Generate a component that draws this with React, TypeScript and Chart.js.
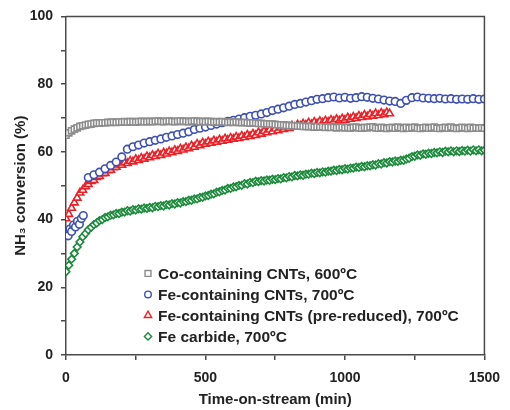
import React, { useEffect, useRef } from 'react';
import { Chart, registerables } from 'chart.js';
import { drawPoint } from 'chart.js/helpers';

Chart.register(...registerables);

// Time-on-stream (min), 10-min sampling
const TIMES_10 = [
  0, 10, 20, 30, 40, 50, 60, 70, 80, 90,
  100, 110, 120, 130, 140, 150, 160, 170, 180, 190,
  200, 210, 220, 230, 240, 250, 260, 270, 280, 290,
  300, 310, 320, 330, 340, 350, 360, 370, 380, 390,
  400, 410, 420, 430, 440, 450, 460, 470, 480, 490,
  500, 510, 520, 530, 540, 550, 560, 570, 580, 590,
  600, 610, 620, 630, 640, 650, 660, 670, 680, 690,
  700, 710, 720, 730, 740, 750, 760, 770, 780, 790,
  800, 810, 820, 830, 840, 850, 860, 870, 880, 890,
  900, 910, 920, 930, 940, 950, 960, 970, 980, 990,
  1000, 1010, 1020, 1030, 1040, 1050, 1060, 1070, 1080, 1090,
  1100, 1110, 1120, 1130, 1140, 1150, 1160, 1170, 1180, 1190,
  1200, 1210, 1220, 1230, 1240, 1250, 1260, 1270, 1280, 1290,
  1300, 1310, 1320, 1330, 1340, 1350, 1360, 1370, 1380, 1390,
  1400, 1410, 1420, 1430, 1440, 1450, 1460, 1470, 1480, 1490,
  1500,
];

// Fe-containing CNTs, 700ºC sampling times (min)
const FE_TIMES = [
  8, 14, 20, 27, 34, 41, 48, 55, 62,
  80, 100, 120, 140, 160, 180, 200, 220, 240, 260,
  280, 300, 320, 340, 360, 380, 400, 420, 440, 460,
  480, 500, 520, 540, 560, 580, 600, 620, 640, 660,
  680, 700, 720, 740, 760, 780, 800, 820, 840, 860,
  880, 900, 920, 940, 960, 980, 1000, 1020, 1040, 1060,
  1080, 1100, 1120, 1140, 1160, 1180, 1200, 1220, 1240, 1260,
  1280, 1300, 1320, 1340, 1360, 1380, 1400, 1420, 1440, 1460,
  1480, 1500,
];

const LABELS = [
  'Co-containing CNTs, 600ºC',
  'Fe-containing CNTs, 700ºC',
  'Fe-containing CNTs (pre-reduced), 700ºC',
  'Fe carbide, 700ºC',
];

// NH3 conversion (%)
const CO_600 = [
  64.9, 65.6, 66.2, 66.7, 67.1, 67.5, 67.7, 67.9, 68.1, 68.2,
  68.4, 68.5, 68.5, 68.6, 68.6, 68.7, 68.7, 68.8, 68.7, 68.8,
  68.8, 68.9, 68.8, 68.9, 68.9, 68.8, 68.9, 69.0, 68.9, 68.9,
  69.0, 68.9, 69.0, 69.1, 69.0, 68.9, 69.0, 69.1, 69.0, 68.9,
  69.0, 69.1, 69.0, 69.0, 68.9, 69.0, 69.1, 69.0, 68.9, 69.0,
  68.9, 69.0, 68.9, 68.8, 68.9, 68.8, 68.9, 68.8, 68.7, 68.8,
  68.7, 68.8, 68.7, 68.6, 68.7, 68.6, 68.5, 68.6, 68.5, 68.4,
  68.4, 68.3, 68.3, 68.2, 68.2, 68.1, 68.0, 68.0, 67.9, 67.8,
  67.8, 67.7, 67.7, 67.6, 67.6, 67.5, 67.5, 67.4, 67.5, 67.3,
  67.4, 67.3, 67.4, 67.2, 67.3, 67.2, 67.3, 67.1, 67.2, 67.3,
  67.1, 67.2, 67.0, 67.2, 67.3, 67.1, 67.0, 67.2, 67.1, 67.3,
  67.4, 67.1, 67.0, 67.2, 67.1, 66.9, 67.1, 67.2, 67.0, 67.3,
  67.1, 66.9, 67.2, 67.0, 67.1, 67.3, 67.0, 66.9, 67.1, 67.2,
  67.0, 67.1, 67.3, 67.0, 66.9, 67.1, 67.2, 67.0, 67.3, 67.1,
  66.9, 67.0, 67.2, 67.1, 66.9, 67.2, 67.0, 67.1, 67.0, 67.1,
  67.0,
];

const FE_700 = [
  35.2, 37.2, 36.5, 38.4, 37.8, 39.5, 38.6, 40.3, 41.2,
  52.4, 53.2, 54.0, 55.0, 56.0, 57.0, 58.5, 60.8, 61.5, 62.0,
  62.6, 63.0, 63.4, 63.8, 64.3, 64.7, 65.1, 65.5, 65.9, 66.6,
  67.0, 67.3, 67.8, 68.2, 68.6, 69.0, 69.3, 69.7, 70.1, 70.5,
  70.8, 71.2, 71.6, 72.2, 72.6, 73.0, 73.5, 74.0, 74.3, 74.7,
  75.1, 75.5, 75.7, 76.0, 76.2, 75.9, 76.1, 75.8, 76.0, 76.3,
  76.1, 75.8, 75.6, 75.3, 75.0, 74.9, 74.3, 75.2, 76.0, 76.2,
  75.9, 75.8, 75.7, 75.8, 75.6, 75.7, 75.5, 75.6, 75.5, 75.7,
  75.5, 75.6,
];

const FE_PRERED_700 = [
  40.3, 41.6, 43.4, 45.0, 46.4, 47.9, 48.7, 49.8, 50.4, 51.3,
  51.6, 52.5, 52.8, 53.6, 53.7, 54.5, 54.6, 55.4, 55.5, 56.2,
  56.1, 56.8, 56.6, 57.3, 57.1, 57.8, 57.5, 58.2, 57.9, 58.6,
  58.3, 59.0, 58.7, 59.4, 59.0, 59.7, 59.4, 60.1, 59.8, 60.5,
  60.2, 60.9, 60.6, 61.3, 61.0, 61.8, 61.4, 62.3, 61.9, 62.7,
  62.3, 63.0, 62.6, 63.3, 62.9, 63.6, 63.2, 63.9, 63.5, 64.1,
  63.8, 64.4, 64.0, 64.7, 64.3, 65.0, 64.6, 65.3, 64.9, 65.7,
  65.3, 66.1, 65.7, 66.5, 66.0, 66.8, 66.3, 67.1, 66.7, 67.4,
  67.0, 67.7, 67.3, 68.0, 67.6, 68.3, 67.9, 68.6, 68.1, 68.8,
  68.3, 69.0, 68.6, 69.2, 68.8, 69.4, 69.0, 69.6, 69.2, 69.8,
  69.4, 70.1, 69.7, 70.3, 69.9, 70.6, 70.2, 70.9, 70.4, 71.1,
  70.6, 71.3, 70.8, 71.5, 71.0, 71.6, 71.3,
];

const FE_CARBIDE_700 = [
  24.6, 26.5, 28.3, 30.0, 31.9, 33.4, 34.9, 35.9, 37.0, 37.7,
  38.5, 39.0, 39.7, 40.0, 40.6, 40.8, 41.3, 41.4, 41.8, 41.8,
  42.2, 42.2, 42.6, 42.5, 42.9, 42.8, 43.2, 43.1, 43.4, 43.3,
  43.6, 43.5, 43.9, 43.8, 44.1, 44.0, 44.4, 44.3, 44.7, 44.6,
  45.0, 44.9, 45.3, 45.3, 45.7, 45.7, 46.1, 46.1, 46.5, 46.6,
  47.0, 47.1, 47.5, 47.6, 48.1, 48.2, 48.6, 48.7, 49.2, 49.2,
  49.6, 49.7, 50.1, 50.1, 50.6, 50.5, 51.0, 50.9, 51.3, 51.2,
  51.5, 51.4, 51.7, 51.6, 51.9, 51.8, 52.1, 52.0, 52.4, 52.3,
  52.7, 52.6, 53.0, 52.9, 53.2, 53.1, 53.4, 53.4, 53.7, 53.6,
  53.9, 53.8, 54.1, 54.0, 54.3, 54.3, 54.6, 54.5, 54.8, 54.7,
  55.0, 54.9, 55.2, 55.2, 55.5, 55.4, 55.7, 55.6, 55.9, 55.9,
  56.2, 56.1, 56.5, 56.4, 56.8, 56.7, 57.1, 57.0, 57.3, 57.2,
  57.5, 57.5, 57.9, 58.1, 58.6, 58.7, 59.1, 59.0, 59.4, 59.3,
  59.6, 59.5, 59.8, 59.7, 60.0, 59.8, 60.2, 60.0, 60.3, 60.0,
  60.3, 60.1, 60.4, 60.2, 60.5, 60.2, 60.6, 60.3, 60.6, 60.3,
  60.5,
];

const X_TICK_LABELS = [0, 500, 1000, 1500];
const Y_TICK_LABELS = [0, 20, 40, 60, 80, 100];

const FONT = '"Liberation Sans", Arial, Helvetica, sans-serif';
const TEXT_COLOR = '#222222';
const AXIS_COLOR = '#4a4a4a';

const zip = (xs: number[], ys: number[]) => ys.map((y, i) => ({ x: xs[i], y }));

const framePlugin = {
  id: 'frame',
  afterDatasetsDraw(chart: any) {
    const { ctx, chartArea } = chart;
    ctx.save();
    ctx.strokeStyle = AXIS_COLOR;
    ctx.lineWidth = 1.5;
    ctx.beginPath();
    ctx.moveTo(chartArea.left, chartArea.top);
    ctx.lineTo(chartArea.right, chartArea.top);
    ctx.lineTo(chartArea.right, chartArea.bottom);
    ctx.stroke();
    ctx.restore();
  },
};

const insideLegendPlugin = {
  id: 'insideLegend',
  afterDatasetsDraw(chart: any) {
    const { ctx, chartArea } = chart;
    const markerX = chartArea.left + 82;
    const textX = chartArea.left + 92;
    const y0 = chartArea.top + 257;
    const dy = 21;
    ctx.save();
    ctx.font = `bold 15.5px ${FONT}`;
    ctx.textBaseline = 'middle';
    ctx.textAlign = 'left';
    chart.data.datasets.forEach((ds: any, i: number) => {
      const y = y0 + i * dy;
      ctx.strokeStyle = ds.borderColor;
      ctx.fillStyle = '#ffffff';
      ctx.lineWidth = 1.4;
      drawPoint(ctx, { pointStyle: ds.pointStyle, radius: ds.legendRadius, rotation: 0, borderWidth: 1.4 } as any, markerX, y);
      ctx.fillStyle = TEXT_COLOR;
      ctx.fillText(ds.label, textX, y + 1);
    });
    ctx.restore();
  },
};

export default function App() {
  const ref = useRef<HTMLCanvasElement>(null);

  useEffect(() => {
    if (!ref.current) return;
    const makeSet = (label: string, data: any[], color: string, style: string, radius: number, legendRadius: number) => ({
      label,
      data,
      borderColor: color,
      backgroundColor: '#ffffff',
      pointStyle: style,
      pointRadius: radius,
      pointBorderWidth: 1.6,
      pointBackgroundColor: '#ffffff',
      pointBorderColor: color,
      showLine: false,
      legendRadius,
    });

    const chart = new Chart(ref.current, {
      type: 'scatter',
      data: {
        datasets: [
          makeSet(LABELS[0], zip(TIMES_10, CO_600), '#8c8c8c', 'rect', 4.3, 4.2),
          makeSet(LABELS[1], zip(FE_TIMES, FE_700), '#3d50b2', 'circle', 3.8, 3.3),
          makeSet(LABELS[2], zip(TIMES_10, FE_PRERED_700), '#ea2127', 'triangle', 4.4, 4.2),
          makeSet(LABELS[3], zip(TIMES_10, FE_CARBIDE_700), '#1b8a3b', 'rectRot', 3.8, 3.6),
        ] as any,
      },
      options: {
        animation: false,
        responsive: true,
        maintainAspectRatio: false,
        layout: { padding: { left: 0, right: 14, top: 16, bottom: 0 } },
        plugins: {
          legend: { display: false },
          tooltip: { enabled: false },
        },
        scales: {
          x: {
            type: 'linear',
            min: 0,
            max: 1500,
            afterFit: (s: any) => { s.height = 55; },
            ticks: {
              stepSize: 250,
              autoSkip: false,
              maxRotation: 0,
              padding: 10,
              color: TEXT_COLOR,
              font: { family: FONT, size: 14, weight: 'bold' },
              callback: (v: any) => (X_TICK_LABELS.includes(Number(v)) ? String(v) : ''),
            },
            grid: { drawOnChartArea: false, drawTicks: true, tickLength: 5, color: AXIS_COLOR, lineWidth: 1.5 },
            border: { display: true, color: AXIS_COLOR, width: 1.5 },
            title: {
              display: true,
              text: 'Time-on-stream (min)',
              color: TEXT_COLOR,
              font: { family: FONT, size: 15, weight: 'bold' },
              padding: { top: 0, bottom: 1 },
            },
          },
          y: {
            type: 'linear',
            min: 0,
            max: 100,
            afterFit: (s: any) => { s.width = 66; },
            ticks: {
              stepSize: 10,
              autoSkip: false,
              padding: 8,
              color: TEXT_COLOR,
              font: { family: FONT, size: 14, weight: 'bold' },
              callback: (v: any) => (Y_TICK_LABELS.includes(Number(v)) ? String(v) : ''),
            },
            grid: { drawOnChartArea: false, drawTicks: true, tickLength: 5, color: AXIS_COLOR, lineWidth: 1.5 },
            border: { display: true, color: AXIS_COLOR, width: 1.5 },
            title: {
              display: true,
              text: 'NH₃ conversion (%)',
              color: TEXT_COLOR,
              font: { family: FONT, size: 15, weight: 'bold' },
              padding: { top: 12, bottom: 0 },
            },
          },
        },
      } as any,
      plugins: [framePlugin, insideLegendPlugin],
    });
    return () => chart.destroy();
  }, []);

  return (
    <div style={{ position: 'absolute', left: 0, top: 0, width: 510, height: 410, background: '#ffffff' }}>
      <canvas ref={ref} />
    </div>
  );
}
